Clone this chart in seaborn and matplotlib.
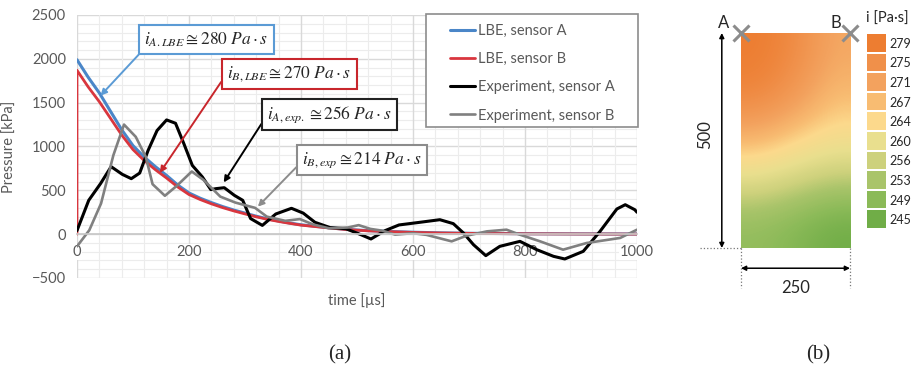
import numpy as np
import seaborn as sns
import matplotlib.pyplot as plt
from matplotlib.colors import ListedColormap, LinearSegmentedColormap
from matplotlib.patches import Rectangle
from matplotlib.ticker import MultipleLocator

# (a) pressure histories
t_lbe_a = [0, 20, 40, 60, 80, 100, 120, 140, 160, 180, 200, 220, 240, 260, 280, 300, 320, 340, 360, 380,
           400, 440, 480, 520, 560, 600, 650, 700, 800, 900, 1000]
p_lbe_a = [1990, 1790, 1610, 1400, 1190, 1010, 880, 770, 670, 560, 470, 410, 360, 315, 275, 240, 205, 175, 150, 127,
           107, 80, 55, 40, 30, 22, 15, 10, 5, 3, 2]
t_lbe_b = [0, 0, 20, 40, 60, 80, 100, 120, 140, 160, 180, 200, 220, 240, 260, 280, 300, 320, 340, 360, 380,
           400, 440, 480, 520, 560, 600, 650, 700, 800, 900, 1000]
p_lbe_b = [0, 1870, 1680, 1510, 1320, 1130, 965, 840, 735, 640, 538, 452, 395, 346, 303, 265, 231, 198, 169, 145, 123,
           103, 77, 53, 38, 28, 20, 13, 9, 4, 2, 1]
t_exp_a = [0, 21, 42, 61, 81, 97, 112, 127, 143, 160, 176, 191, 206, 224, 239, 248, 263, 281, 296, 310, 331, 355,
           383, 404, 425, 452, 480, 501, 525, 550, 575, 612, 648, 672, 690, 708, 730, 755, 791, 821, 851, 871,
           904, 934, 964, 979, 996, 1000]
p_exp_a = [40, 386, 576, 770, 682, 633, 697, 955, 1182, 1303, 1265, 1030, 784, 652, 508, 519, 530, 443, 386, 178,
           100, 230, 295, 240, 135, 75, 62, 10, -55, 40, 105, 135, 165, 120, 14, -120, -245, -139, -82, -177, -253,
           -283, -196, 32, 287, 336, 279, 250]
t_exp_b = [0, 22, 43, 65, 84, 105, 123, 135, 157, 178, 205, 226, 256, 283, 318, 339, 372, 398, 422, 450, 484, 503,
           524, 545, 568, 600, 624, 669, 696, 732, 767, 791, 827, 868, 910, 970, 1000]
p_exp_b = [-140, 45, 350, 900, 1250, 1110, 880, 570, 438, 550, 715, 618, 428, 360, 300, 200, 152, 172, 110, 67, 76,
           103, 60, 40, -5, 11, -8, -82, -17, 32, 51, -6, -82, -177, -101, -43, 51]
series_labels = ["LBE, sensor A", "LBE, sensor B", "Experiment, sensor A", "Experiment, sensor B"]

ann_texts = [r"$i_{A.LBE} \cong 280\ Pa \cdot s$", r"$i_{B,LBE} \cong 270\ Pa \cdot s$",
             r"$i_{A,exp.} \cong 256\ Pa \cdot s$", r"$i_{B,exp} \cong 214\ Pa \cdot s$"]

# (b) impulse field over the 250 x 500 wall (rows top -> bottom, cols left -> right)
field = [[279, 276, 270],
         [277, 273, 267],
         [268, 264.5, 262],
         [258, 256, 254],
         [250, 248, 245]]
levels = [279, 275, 271, 267, 264, 260, 256, 253, 249, 245]
level_colors = ["#ED7D31", "#F0904A", "#F3A25E", "#F8BC72", "#FCD98C",
                "#E9DF8E", "#CDD17C", "#A9C46A", "#8BBA58", "#70AD47"]

sns.set_theme(style="white")
plt.rcParams["font.family"] = ["Lato", "DejaVu Sans"]
plt.rcParams["mathtext.fontset"] = "stix"
grey = "#595959"

fig = plt.figure(figsize=(9.13, 3.72), dpi=100)

# ---- panel (a)
ax = fig.add_axes([0.0843, 0.2527, 0.6134, 0.707])
styles = [(t_lbe_a, p_lbe_a, "#4a86c8", 2.2), (t_lbe_b, p_lbe_b, "#d9363e", 2.0),
          (t_exp_a, p_exp_a, "black", 2.2), (t_exp_b, p_exp_b, "#808080", 1.9)]
for (t, p, col, lw), lab in zip(styles, series_labels):
    sns.lineplot(x=t, y=p, color=col, lw=lw, label=lab, estimator=None, sort=False, ax=ax)

ax.set_xlim(0, 1000)
ax.set_ylim(-500, 2500)
ax.xaxis.set_major_locator(MultipleLocator(200))
ax.xaxis.set_minor_locator(MultipleLocator(40))
ax.yaxis.set_major_locator(MultipleLocator(500))
ax.yaxis.set_minor_locator(MultipleLocator(100))
ax.grid(which="major", color="#d9d9d9", lw=1.0)
ax.grid(which="minor", color="#ececec", lw=0.8)
ax.set_axisbelow(True)
ax.xaxis.set_zorder(0.6)  # x labels (white background) above the horizontal grid
for s in ["top", "right", "left"]:
    ax.spines[s].set_visible(False)
ax.spines["bottom"].set_position(("data", 0))
ax.spines["bottom"].set_color("#c8c8c8")
ax.tick_params(which="both", length=0, labelsize=10.5, colors=grey)
ax.tick_params(axis="x", pad=8)
ax.tick_params(axis="y", pad=8)
for lab in ax.xaxis.get_ticklabels():
    lab.set_bbox(dict(fc="white", ec="none", pad=0.6))
ax.set_xlabel("time [µs]", fontsize=10.5, color=grey)
ax.xaxis.set_label_coords(0.5, -0.057)
ax.set_ylabel("Pressure [kPa]", fontsize=10.5, color=grey)
ax.yaxis.set_label_coords(-0.107, 0.5)

# legend: Excel-style box drawn separately, entries placed inside it
ax.add_patch(Rectangle((0.623, 0.574), 0.379, 0.430, transform=ax.transAxes, clip_on=False,
                       fc="white", ec="#8c8c8c", lw=1.2, zorder=4))
leg = ax.legend(loc="upper left", bbox_to_anchor=(0.666, 0.967), frameon=False, fontsize=10.5,
                handlelength=1.75, handletextpad=0.15, labelspacing=0.98, borderpad=0, borderaxespad=0)
leg.set_zorder(5)
for txt in leg.get_texts():
    txt.set_color(grey)

# callouts: text centre, arrow tip, box colour, arrow colour, arrow start on box
callouts = [((231, 2220), (42, 1580), "#5B9BD5", "#5B9BD5", (0.0, 0.0)),
            ((379, 1825), (148, 700), "#C8262C", "#C8262C", (0.0, 0.55)),
            ((451, 1363), (262, 590), "#222222", "black", (0.0, 0.5)),
            ((509, 844), (323, 314), "#8c8c8c", "#8c8c8c", (0.0, 0.45))]
for txt, (pos, tip, ec, ac, rp) in zip(ann_texts, callouts):
    ax.annotate(txt, xy=tip, xytext=pos, ha="center", va="center", fontsize=12.5,
                bbox=dict(boxstyle="square,pad=0.3", fc="white", ec=ec, lw=1.5),
                arrowprops=dict(arrowstyle="-|>", color=ac, lw=1.4, relpos=rp,
                                shrinkA=0, shrinkB=0, mutation_scale=9))

# ---- panel (b)
axb = fig.add_axes([0.8116, 0.3333, 0.1194, 0.578])
pos = [(v - 245) / 34 for v in levels[::-1]]
field_cmap = LinearSegmentedColormap.from_list("imp", list(zip(pos, level_colors[::-1])))
axb.imshow(np.array(field), extent=(0, 250, 0, 500), origin="upper", cmap=field_cmap,
           vmin=245, vmax=279, interpolation="bicubic", aspect="auto")
axb.set_xlim(0, 250)
axb.set_ylim(0, 500)
axb.axis("off")

arrow = dict(arrowstyle="<|-|>", color="black", lw=1.1, shrinkA=0, shrinkB=0, mutation_scale=7)
axb.annotate("", xy=(-44, 0), xytext=(-44, 500), arrowprops=arrow, annotation_clip=False)
axb.annotate("", xy=(0, -47), xytext=(250, -47), arrowprops=arrow, annotation_clip=False)
axb.plot([-95, 0], [0, 0], ls=":", color="#777777", lw=0.9, clip_on=False)
axb.plot([0, 0], [0, -92], ls=":", color="#777777", lw=0.9, clip_on=False)
axb.plot([250, 250], [0, -92], ls=":", color="#777777", lw=0.9, clip_on=False)
axb.text(-83, 263, "500", rotation=90, ha="center", va="center", fontsize=12)
axb.text(125, -92, "250", ha="center", va="center", fontsize=12)
axb.plot([0, 250], [500, 500], "x", ms=12, mew=2.2, color="#8c8c8c", clip_on=False)
axb.text(-41, 523, "A", ha="center", va="center", fontsize=12)
axb.text(218, 523, "B", ha="center", va="center", fontsize=12)

axc = fig.add_axes([0.9485, 0.3844, 0.023, 0.527])
sns.heatmap(np.arange(len(levels)).reshape(-1, 1), ax=axc, cmap=ListedColormap(level_colors), cbar=False,
            linewidths=1.2, linecolor="white", xticklabels=False, yticklabels=levels)
axc.yaxis.tick_right()
axc.tick_params(axis="y", length=0, rotation=0, labelsize=9, pad=1.5)
fig.text(0.972, 0.949, "i [Pa·s]", ha="center", va="center", fontsize=10.5)

fig.text(340 / 913, 1 - 355 / 372, "(a)", family="Liberation Serif", fontsize=15, ha="center", va="center")
fig.text(818 / 913, 1 - 355 / 372, "(b)", family="Liberation Serif", fontsize=15, ha="center", va="center")

fig.savefig("out.png", dpi=100)
